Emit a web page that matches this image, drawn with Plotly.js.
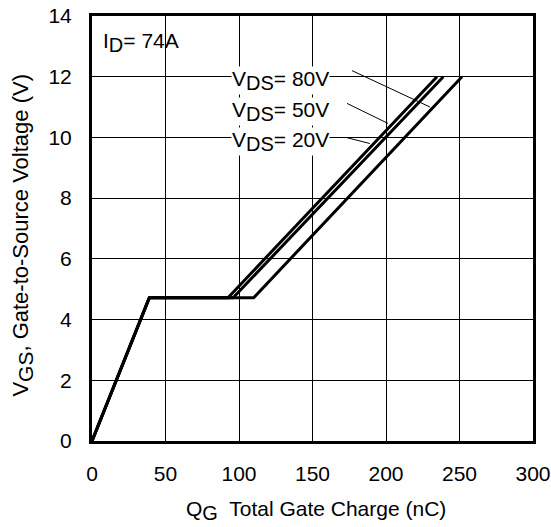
<!DOCTYPE html>
<html>
<head>
<meta charset="utf-8">
<script src="https://cdn.plot.ly/plotly-3.0.1.min.js"></script>
<style>html,body{margin:0;padding:0;background:#fff;}#chart{width:551px;height:527px;}</style>
</head>
<body>
<div id="chart"></div>
<script>
// Gate charge curves (Q_G in nC, V_GS in V)
const vgs = [0, 4.72, 4.72, 12];
const qg20 = [0, 39, 92.5, 234.7];
const qg50 = [0, 39, 96, 239];
const qg80 = [0, 39, 110, 251.7];
const seriesLabels = ["20V", "50V", "80V"];
const xTicks = [0, 50, 100, 150, 200, 250, 300];
const yTicks = [0, 2, 4, 6, 8, 10, 12, 14];
// label positions (data coords) and leader lines [x0,y0,x1,y1]
const labelX = [128, 128, 128];
const labelY = [10, 11, 12];
const leaders = [
  [172.8, 10.0, 189, 9.8],
  [173.5, 11.12, 201.4, 10.46],
  [176.9, 12.2, 230, 11.0]
];

const FS = 21;
const font = {family: "Liberation Sans, Arial, sans-serif", size: FS, color: "#000"};
const sub = (s, sz) => "<sub><span style='font-size:" + (sz || FS - 2) + "px'>" + s + "</span></sub>";

const curves = [qg20, qg50, qg80];
const traces = curves.map((q, i) => ({
  x: q, y: vgs, type: "scatter", mode: "lines", name: "VDS= " + seriesLabels[i],
  line: {color: "#000", width: 3}, showlegend: false, hoverinfo: "skip"
}));

const annotations = seriesLabels.map((t, i) => ({
  x: labelX[i], y: labelY[i], xref: "x", yref: "y", text: "V" + sub("DS", 20) + "= " + t,
  showarrow: false, font: font, bgcolor: "#fff", borderpad: 0, yshift: -4
}));
annotations.push({
  x: 0.02, y: 0.975, xref: "paper", yref: "paper", xanchor: "left", yanchor: "top",
  text: "I" + sub("D", 20) + "= 74A", showarrow: false, font: font
});
annotations.push({
  x: 0.509, y: -0.163, xref: "paper", yref: "paper", xanchor: "center", yanchor: "middle",
  text: "Q" + sub("G", 20) + "  Total Gate Charge (nC)", showarrow: false, font: font
});
annotations.push({
  x: -0.158, y: 0.484, xref: "paper", yref: "paper", xanchor: "center", yanchor: "middle",
  text: "V" + sub("GS", 21) + ", Gate-to-Source Voltage (V)", showarrow: false,
  font: Object.assign({}, font, {size: 22}), textangle: -90
});

const shapes = leaders.map(l => ({
  type: "line", xref: "x", yref: "y", x0: l[0], y0: l[1], x1: l[2], y1: l[3],
  line: {color: "#000", width: 1}
}));

const axisCommon = {
  showline: true, mirror: true, linecolor: "#000", linewidth: 3,
  showgrid: true, gridcolor: "#000", gridwidth: 1, zeroline: false,
  ticks: "", tickfont: font
};

const layout = {
  width: 551, height: 527,
  margin: {l: 92, r: 18, t: 16, b: 86},
  paper_bgcolor: "#fff", plot_bgcolor: "#fff",
  font: font,
  xaxis: Object.assign({}, axisCommon, {
    range: [0, 300], tickvals: xTicks, ticktext: xTicks.map(String), ticklabelstandoff: 12
  }),
  yaxis: Object.assign({}, axisCommon, {
    range: [0, 14], tickvals: yTicks, ticktext: yTicks.map(String), ticklabelstandoff: 13
  }),
  annotations: annotations,
  shapes: shapes
};

Plotly.newPlot("chart", traces, layout, {staticPlot: true, displayModeBar: false});
</script>
</body>
</html>
